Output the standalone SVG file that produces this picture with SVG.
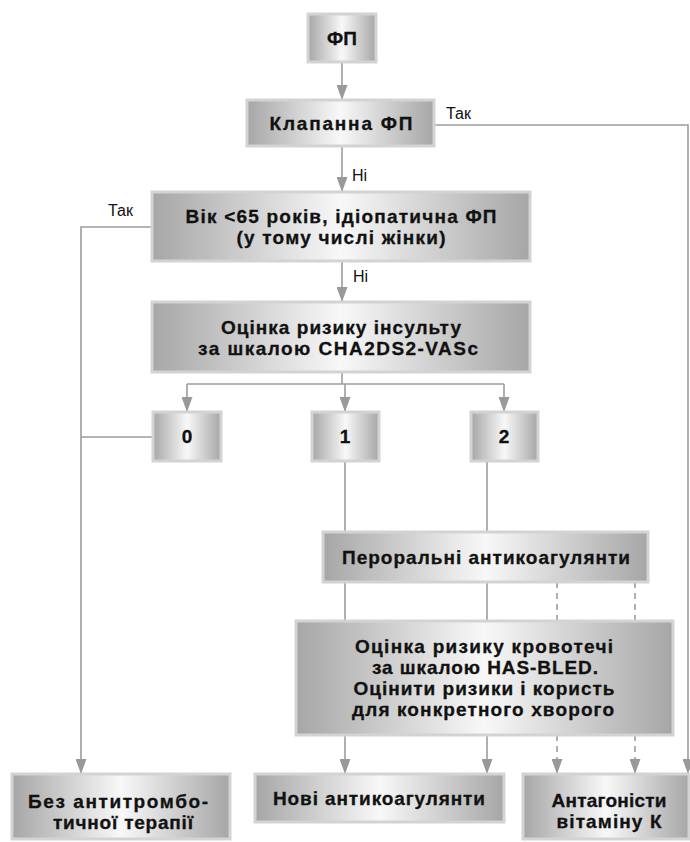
<svg xmlns="http://www.w3.org/2000/svg" width="690" height="842" viewBox="0 0 690 842">
<defs>
<linearGradient id="g" x1="0" y1="0" x2="1" y2="0">
<stop offset="0" stop-color="#a6a6a6"/>
<stop offset="0.5" stop-color="#f8f8f8"/>
<stop offset="1" stop-color="#a6a6a6"/>
</linearGradient>
<marker id="ah" markerUnits="userSpaceOnUse" markerWidth="15" markerHeight="11" viewBox="0 0 15 11" refX="15" refY="5.5" orient="auto">
<path d="M0,0 L15,5.5 L0,11 z" fill="#999"/>
</marker>
<style>
.box{fill:url(#g);stroke:#d3d3d3;stroke-width:3}
.t{font-family:"Liberation Sans",Arial,sans-serif;font-weight:bold;font-size:19px;fill:#111;text-anchor:middle;stroke:#111;stroke-width:0.3}
.l{font-family:"Liberation Sans",Arial,sans-serif;font-size:16px;fill:#111}
.c{fill:none;stroke:#9c9c9c;stroke-width:1.6}
.a{marker-end:url(#ah)}
.d{stroke-dasharray:6,5}
</style>
</defs>
<rect width="690" height="842" fill="#fff"/>
<g id="connectors">
<line class="c a" x1="342" y1="62" x2="342" y2="100"/>
<line class="c a" x1="342" y1="147" x2="342" y2="192"/>
<polyline class="c a" points="435,125 688,125 688,774"/>
<polyline class="c a" points="152,227 81,227 81,774"/>
<line class="c" x1="81" y1="437" x2="153" y2="437"/>
<line class="c a" x1="342" y1="261" x2="342" y2="302"/>
<line class="c" x1="342" y1="372" x2="342" y2="384"/>
<line class="c" x1="187" y1="384" x2="504" y2="384"/>
<line class="c a" x1="187" y1="384" x2="187" y2="412"/>
<line class="c a" x1="345" y1="384" x2="345" y2="412"/>
<line class="c a" x1="504" y1="384" x2="504" y2="412"/>
<line class="c" x1="345" y1="461" x2="345" y2="532"/>
<line class="c" x1="487" y1="461" x2="487" y2="532"/>
<line class="c" x1="345" y1="582" x2="345" y2="621"/>
<line class="c" x1="487" y1="582" x2="487" y2="621"/>
<line class="c d" x1="557" y1="582" x2="557" y2="621"/>
<line class="c d" x1="635" y1="582" x2="635" y2="621"/>
<line class="c a" x1="345" y1="735" x2="345" y2="774"/>
<line class="c a" x1="487" y1="735" x2="487" y2="774"/>
<line class="c d a" x1="557" y1="735" x2="557" y2="774"/>
<line class="c d a" x1="635" y1="735" x2="635" y2="774"/>
<text class="l" x="446" y="119">Так</text>
<text class="l" x="108" y="216">Так</text>
<text class="l" x="352" y="181">Ні</text>
<text class="l" x="353" y="282">Ні</text>
</g>
<g id="n-fp"><rect class="box" x="308" y="14" width="68" height="48"/><text class="t" x="342" y="45">ФП</text></g>
<g id="n-valve"><rect class="box" x="247" y="100" width="187" height="46"/><text class="t" x="341" y="130" textLength="143" lengthAdjust="spacing">Клапанна ФП</text></g>
<g id="n-age"><rect class="box" x="152" y="192" width="378" height="69"/><text class="t" x="341" y="223" textLength="311" lengthAdjust="spacing">Вік &lt;65 років, ідіопатична ФП</text><text class="t" x="341" y="244" textLength="209" lengthAdjust="spacing">(у тому числі жінки)</text></g>
<g id="n-cha"><rect class="box" x="152" y="302" width="378" height="70"/><text class="t" x="341" y="334" textLength="240" lengthAdjust="spacing">Оцінка ризику інсульту</text><text class="t" x="338" y="355" textLength="280" lengthAdjust="spacing">за шкалою CHA2DS2-VASc</text></g>
<g id="n-0"><rect class="box" x="153" y="412" width="68" height="49"/><text class="t" x="187" y="443">0</text></g>
<g id="n-1"><rect class="box" x="312" y="412" width="67" height="49"/><text class="t" x="345" y="443">1</text></g>
<g id="n-2"><rect class="box" x="471" y="412" width="67" height="49"/><text class="t" x="504" y="443">2</text></g>
<g id="n-oral"><rect class="box" x="323" y="532" width="325" height="50"/><text class="t" x="486" y="564" textLength="288" lengthAdjust="spacing">Пероральні антикоагулянти</text></g>
<g id="n-hasbled"><rect class="box" x="296" y="621" width="377" height="114"/><text class="t" x="484" y="653" textLength="258" lengthAdjust="spacing">Оцінка ризику кровотечі</text><text class="t" x="485" y="674" textLength="226" lengthAdjust="spacing">за шкалою HAS-BLED.</text><text class="t" x="484" y="695" textLength="261" lengthAdjust="spacing">Оцінити ризики і користь</text><text class="t" x="483" y="716" textLength="262" lengthAdjust="spacing">для конкретного хворого</text></g>
<g id="n-none"><rect class="box" x="12" y="774" width="218" height="65"/><text class="t" x="118" y="808" textLength="180" lengthAdjust="spacing">Без антитромбо-</text><text class="t" x="123" y="829" textLength="140" lengthAdjust="spacing">тичної терапії</text></g>
<g id="n-noac"><rect class="box" x="255" y="774" width="249" height="48"/><text class="t" x="379" y="805" textLength="212" lengthAdjust="spacing">Нові антикоагулянти</text></g>
<g id="n-vka"><rect class="box" x="523" y="774" width="166" height="65"/><text class="t" x="609" y="807" textLength="115" lengthAdjust="spacing">Антагоністи</text><text class="t" x="609" y="828" textLength="105" lengthAdjust="spacing">вітаміну К</text></g>
</svg>
